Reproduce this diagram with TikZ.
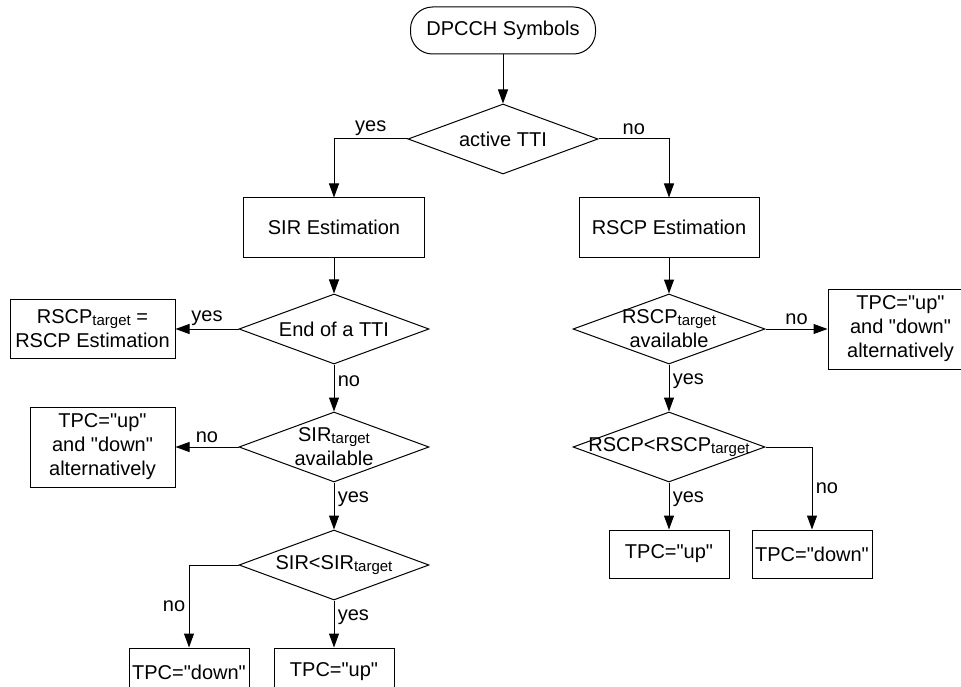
\documentclass[tikz,border=0pt]{standalone}
\usepackage{fontspec}
\setmainfont{Liberation Sans}
\usepackage{tikz}
\usetikzlibrary{arrows.meta,positioning,shapes}

\newcommand{\tgt}{\raisebox{-2pt}{\fontsize{15}{15}\selectfont target}}
\newcommand{\dq}{\textquotedbl}

\tikzset{
  every node/.style={font=\fontsize{20}{24}\selectfont},
  terminal/.style={draw,rectangle,rounded corners=22pt,minimum width=185pt,minimum height=47pt},
  process/.style={draw,rectangle,align=center,inner sep=2pt},
  decision/.style={draw,diamond,inner sep=0pt,minimum width=190pt,minimum height=70pt},
  smallbox/.style={process,minimum width=120pt,minimum height=48pt},
  altbox/.style={process,minimum width=145pt,minimum height=80pt}
}

\begin{document}
\begin{tikzpicture}[line width=1pt,>={Triangle[length=14pt,width=10pt]}]
  \clip (0,0) rectangle (961pt,-687pt);
  \node[terminal] (start) at (503pt,-30.5pt) {DPCCH Symbols};
  \node[decision,below=49pt of start,label=center:{active TTI}] (activeTti) {};
  \node[process,minimum width=181pt,minimum height=59pt,below=23pt of activeTti,xshift=-169pt] (sirEst) {SIR Estimation};
  \node[process,minimum width=180pt,minimum height=59pt,below=23pt of activeTti,xshift=166pt] (rscpEst) {RSCP Estimation};

  \node[decision,below=36pt of sirEst,label=center:{End of a TTI}] (endTti) {};
  \node[process,minimum width=165pt,minimum height=59pt,left=63pt of endTti] (rscpSet) {RSCP\tgt{} =\\RSCP Estimation};
  \node[decision,below=47pt of endTti,label={[align=center]center:SIR\tgt\\available}] (sirAvail) {};
  \node[altbox,left=63pt of sirAvail] (altLeft) {TPC=\dq up\dq\\and \dq down\dq\\alternatively};
  \node[decision,below=47pt of sirAvail,label=center:{SIR<SIR\tgt}] (sirLess) {};
  \node[smallbox,below=47pt of sirLess] (upLeft) {TPC=\dq up\dq};
  \node[smallbox,below=47pt of sirLess,xshift=-145pt] (downLeft) {TPC=\dq down\dq};

  \node[decision,minimum width=192pt,below=36pt of rscpEst,label={[align=center]center:RSCP\tgt\\available}] (rscpAvail) {};
  \node[altbox,right=62pt of rscpAvail] (altRight) {TPC=\dq up\dq\\and \dq down\dq\\alternatively};
  \node[decision,minimum width=192pt,below=47pt of rscpAvail,label=center:{RSCP<RSCP\tgt}] (rscpLess) {};
  \node[smallbox,below=47pt of rscpLess] (upRight) {TPC=\dq up\dq};
  \node[smallbox,right=22pt of upRight] (downRight) {TPC=\dq down\dq};

  \draw[->] (start) -- (activeTti);
  \draw[->] (activeTti.west) -| node[above,pos=0.25] {yes} (sirEst);
  \draw[->] (activeTti.east) -| node[above,pos=0.25] {no} (rscpEst);
  \draw[->] (sirEst) -- (endTti);
  \draw[->] (endTti) -- node[above] {yes} (rscpSet);
  \draw[->] (endTti) -- node[right,pos=0.35] {no} (sirAvail);
  \draw[->] (sirAvail) -- node[above] {no} (altLeft);
  \draw[->] (sirAvail) -- node[right,pos=0.35] {yes} (sirLess);
  \draw[->] (sirLess) -- node[right,pos=0.35] {yes} (upLeft);
  \draw[->] (sirLess.west) -| node[left,pos=0.75] {no} (downLeft);
  \draw[->] (rscpEst) -- (rscpAvail);
  \draw[->] (rscpAvail) -- node[above] {no} (altRight);
  \draw[->] (rscpAvail) -- node[right,pos=0.35] {yes} (rscpLess);
  \draw[->] (rscpLess) -- node[right,pos=0.35] {yes} (upRight);
  \draw[->] (rscpLess.east) -| node[right,pos=0.75] {no} (downRight);
\end{tikzpicture}
\end{document}
